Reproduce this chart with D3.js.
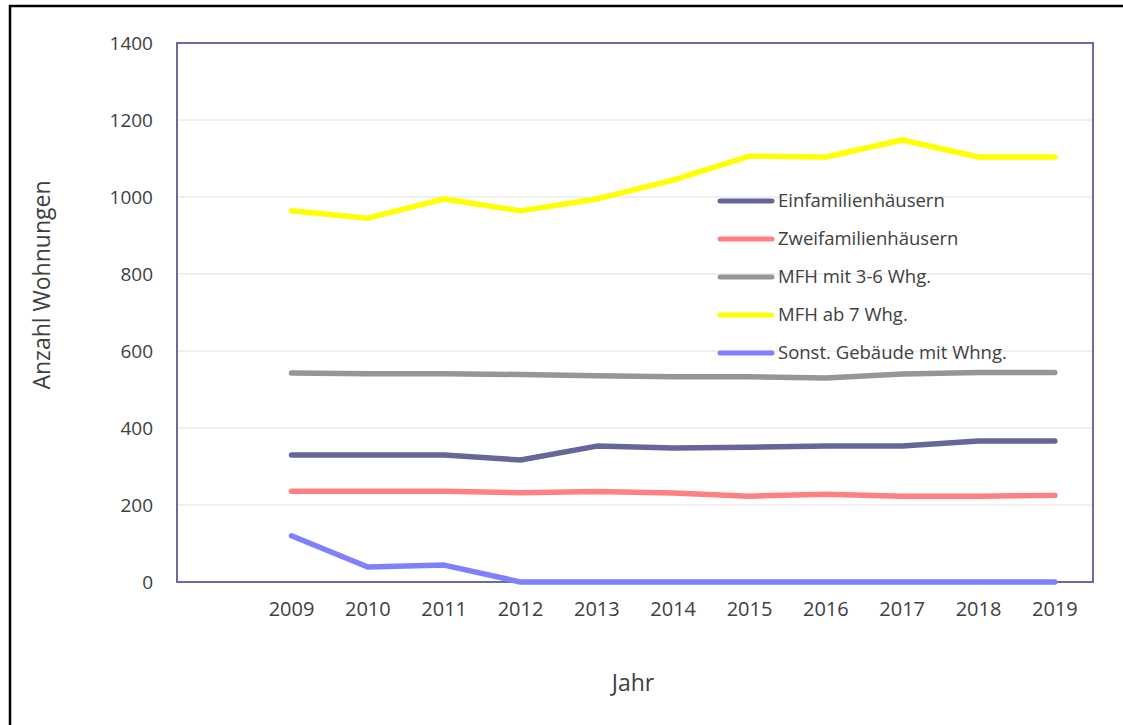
<!DOCTYPE html>
<html>
<head>
<meta charset="utf-8">
<style>
  body { margin: 0; background: #fff; }
  text { font-family: "Open Sans", "Noto Sans", sans-serif; fill: #404040; }
</style>
</head>
<body>
<svg width="1123" height="725"></svg>
<script src="https://cdn.jsdelivr.net/npm/d3@7"></script>
<script>
// data
var years = ["", "2009", "2010", "2011", "2012", "2013", "2014", "2015", "2016", "2017", "2018", "2019"];
var yTicks = [0, 200, 400, 600, 800, 1000, 1200, 1400];

var seriesNames = ["Einfamilienhäusern", "Zweifamilienhäusern", "MFH mit 3-6 Whg.", "MFH ab 7 Whg.", "Sonst. Gebäude mit Whng."];
var seriesColors = ["#666699", "#ff8080", "#969696", "#ffff00", "#8080ff"];

var einfam   = [330, 330, 330, 317, 353, 348, 350, 353, 353, 366, 366];
var zweifam  = [236, 236, 236, 232, 235, 231, 223, 228, 223, 223, 225];
var mfh36    = [543, 541, 541, 539, 536, 533, 533, 530, 540, 544, 544];
var mfh7     = [964, 945, 995, 964, 995, 1044, 1106, 1104, 1148, 1104, 1104];
var sonst    = [120, 39, 44, 0, 0, 0, 0, 0, 0, 0, 0];

var allSeries = [einfam, zweifam, mfh36, mfh7, sonst];

var svg = d3.select("svg");

// plot box (window.top is reserved, so use other names)
var pLeft = 177, pRight = 1093, pTop = 43, pBottom = 582;

var x = d3.scaleBand().domain(years).range([pLeft, pRight]).padding(0);
var y = d3.scaleLinear().domain([0, 1400]).range([pBottom, pTop]);

// outer frame
svg.append("rect")
    .attr("x", 10).attr("y", 6)
    .attr("width", 1130).attr("height", 730)
    .attr("fill", "none")
    .attr("stroke", "#000")
    .attr("stroke-width", 2.5);

// gridlines
svg.append("g")
  .selectAll("line")
  .data(yTicks.slice(1, -1))
  .enter().append("line")
    .attr("x1", pLeft).attr("x2", pRight)
    .attr("y1", function(d) { return y(d); })
    .attr("y2", function(d) { return y(d); })
    .attr("stroke", "#e0e0e0")
    .attr("stroke-width", 1);

// plot border
svg.append("rect")
    .attr("x", pLeft).attr("y", pTop)
    .attr("width", pRight - pLeft).attr("height", pBottom - pTop)
    .attr("fill", "none")
    .attr("stroke", "#6b6b9e")
    .attr("stroke-width", 2);

// y axis labels
var yAxis = d3.axisLeft(y).tickValues(yTicks).tickFormat(d3.format("d")).tickSize(0).tickPadding(24);
var gy = svg.append("g").attr("transform", "translate(" + pLeft + ",0)").call(yAxis);
gy.select(".domain").remove();
gy.selectAll("text").attr("font-size", 19).attr("fill", "#404040")
    .style("font-family", "'Open Sans', 'Noto Sans', sans-serif");

// x axis labels
var xAxis = d3.axisBottom(x).tickSize(0).tickPadding(20);
var gx = svg.append("g").attr("transform", "translate(0," + pBottom + ")").call(xAxis);
gx.select(".domain").remove();
gx.selectAll("text").attr("font-size", 20).attr("fill", "#404040")
    .style("font-family", "'Open Sans', 'Noto Sans', sans-serif");

// axis titles
svg.append("text")
    .attr("x", 633).attr("y", 691)
    .attr("text-anchor", "middle")
    .attr("font-size", 23)
    .text("Jahr");

svg.append("text")
    .attr("transform", "translate(50,285) rotate(-90)")
    .attr("text-anchor", "middle")
    .attr("font-size", 23)
    .text("Anzahl Wohnungen");

// lines
var line = d3.line()
    .x(function(d, i) { return x(years[i + 1]) + x.bandwidth() / 2; })
    .y(function(d) { return y(d); });

svg.append("g")
  .selectAll("path")
  .data(allSeries)
  .enter().append("path")
    .attr("d", line)
    .attr("fill", "none")
    .attr("stroke", function(d, i) { return seriesColors[i]; })
    .attr("stroke-width", 5.5)
    .attr("stroke-linejoin", "round")
    .attr("stroke-linecap", "round");

// legend
var legend = svg.append("g").attr("transform", "translate(720,201)");
var item = legend.selectAll("g")
  .data(seriesNames)
  .enter().append("g")
    .attr("transform", function(d, i) { return "translate(0," + i * 38 + ")"; });

item.append("line")
    .attr("x1", 0).attr("x2", 52)
    .attr("stroke", function(d, i) { return seriesColors[i]; })
    .attr("stroke-width", 5)
    .attr("stroke-linecap", "round");

item.append("text")
    .attr("x", 58).attr("y", 6)
    .attr("font-size", 18.5)
    .text(function(d) { return d; });
</script>
</body>
</html>
